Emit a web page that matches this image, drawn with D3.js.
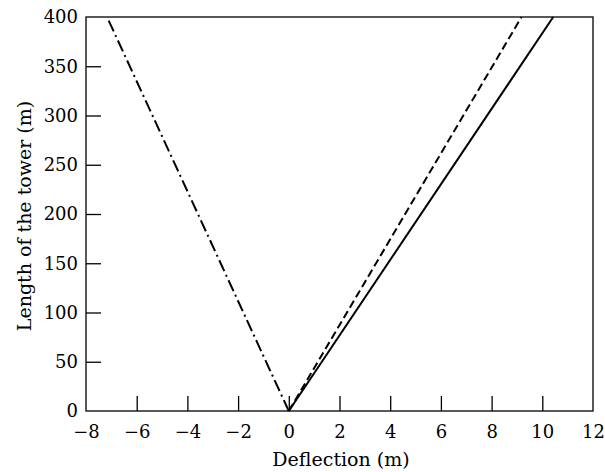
<!DOCTYPE html>
<html>
<head>
<meta charset="utf-8">
<script src="https://cdn.jsdelivr.net/npm/d3@7"></script>
<style>
  html, body { margin: 0; padding: 0; background: #fff; }
  svg text { font-family: "DejaVu Serif", "Liberation Serif", serif; fill: #000; }
</style>
</head>
<body>
<svg id="chart" width="605" height="472"></svg>
<script>
// Tower deflection versus length for three load cases
const lengths = [0, 400];
const deflectionSolid = [0, 10.43];
const deflectionDashed = [0, 9.18];
const deflectionDashDot = [0, -7.17];

const xTicks = [-8, -6, -4, -2, 0, 2, 4, 6, 8, 10, 12];
const yTicks = [0, 50, 100, 150, 200, 250, 300, 350, 400];

const margin = { left: 86, right: 12, top: 17, bottom: 61 };
const W = 605, H = 472;

const svg = d3.select("#chart");
const x = d3.scaleLinear().domain([-8, 12]).range([margin.left, W - margin.right]);
const y = d3.scaleLinear().domain([0, 400]).range([H - margin.bottom, margin.top]);

// Frame
svg.append("rect")
  .attr("x", x(-8)).attr("y", y(400))
  .attr("width", x(12) - x(-8)).attr("height", y(0) - y(400))
  .attr("fill", "none").attr("stroke", "#000").attr("stroke-width", 1.3);

// Axes with inward ticks
const xAxis = svg.append("g")
  .attr("transform", `translate(0,${y(0)})`)
  .call(d3.axisBottom(x).tickValues(xTicks).tickSizeInner(-15).tickSizeOuter(0).tickPadding(14));
const yAxis = svg.append("g")
  .attr("transform", `translate(${x(-8)},0)`)
  .call(d3.axisLeft(y).tickValues(yTicks).tickSizeInner(-15).tickSizeOuter(0).tickPadding(8));

[xAxis, yAxis].forEach(g => {
  g.select(".domain").remove();
  g.selectAll(".tick line").attr("stroke", "#000").attr("stroke-width", 1.3);
  g.selectAll(".tick text").style("font-size", "18px").attr("fill", "#000");
});
// Ticks at the plot corners coincide with the frame
xAxis.selectAll(".tick").filter(d => d === -8 || d === 12).select("line").remove();
yAxis.selectAll(".tick").filter(d => d === 0 || d === 400).select("line").remove();

const series = [
  { xs: deflectionSolid, dash: null },
  { xs: deflectionDashed, dash: "8,4" },
  { xs: deflectionDashDot, dash: "12,4,2,4" }
];
const line = d3.line().x(d => x(d[0])).y(d => y(d[1]));
series.forEach(s => {
  svg.append("path")
    .datum(s.xs.map((v, i) => [v, lengths[i]]))
    .attr("d", line)
    .attr("fill", "none")
    .attr("stroke", "#000")
    .attr("stroke-width", 2)
    .attr("stroke-dasharray", s.dash);
});

// Axis titles
svg.append("text")
  .attr("x", 341).attr("y", 466)
  .attr("text-anchor", "middle").style("font-size", "19px")
  .text("Deflection (m)");
svg.append("text")
  .attr("transform", `translate(31,216) rotate(-90)`)
  .attr("text-anchor", "middle").style("font-size", "19px")
  .text("Length of the tower (m)");
</script>
</body>
</html>
